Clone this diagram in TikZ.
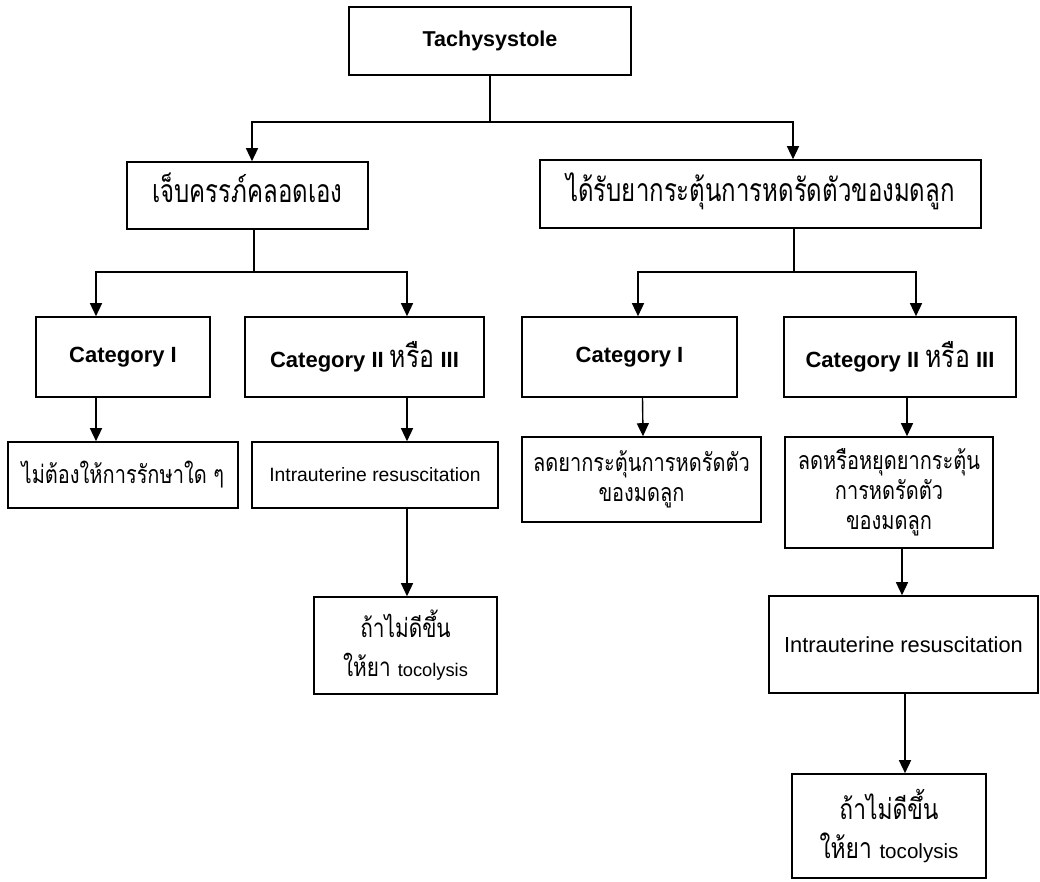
\documentclass[tikz,border=0pt]{standalone}
\usepackage{fontspec}
\setmainfont{Liberation Sans}
\newfontfamily\thaiN[Script=Thai, FakeStretch=0.75]{Loma}
\newfontfamily\thaiM[Script=Thai, FakeStretch=0.8]{Loma}
\newfontfamily\latin{Liberation Sans}
\usetikzlibrary{arrows.meta}
\begin{document}
\begin{tikzpicture}[x=1pt,y=-1pt,
  box/.style={draw, line width=1.6pt, inner sep=0pt, align=center, anchor=center},
  ln/.style={line width=1.4pt},
  arr/.style={ln, -{Triangle[width=12pt,length=13pt]}},
  thaiH/.style={font=\thaiN\fontsize{32}{36}\selectfont, text height=21pt, text depth=6pt},
  catF/.style={font=\bfseries\fontsize{22}{26}\selectfont},
  thaiS/.style={font=\thaiM\fontsize{25}{30}\selectfont},
  thaiT/.style={font=\thaiM\fontsize{26}{39}\selectfont},
]
\useasboundingbox (0,0) rectangle (1040,882);
% level 0
\node[box, minimum width=282, minimum height=68, font=\bfseries\fontsize{21.5}{26}\selectfont] (tachy) at (490,41) {Tachysystole};
% level 1
\node[box, thaiH, minimum width=241, minimum height=67] (spont) at (247.5,195.5) {เจ็บครรภ์คลอดเอง};
\node[box, thaiH, minimum width=441, minimum height=68] (induced) at (760.5,194) {ได้รับยากระตุ้นการหดรัดตัวของมดลูก};
% level 2
\node[box, catF, minimum width=174, minimum height=80] (catIL) at (123,357) {Category I};
\node[box, catF, minimum width=239, minimum height=80] (catIIL) at (364.5,357) {Category II {\thaiM\mdseries\fontsize{31}{26}\selectfont หรือ} III};
\node[box, catF, minimum width=215, minimum height=80] (catIR) at (629.5,357) {Category I};
\node[box, catF, minimum width=232, minimum height=80] (catIIR) at (900,357) {Category II {\thaiM\mdseries\fontsize{31}{26}\selectfont หรือ} III};
% level 3
\node[box, thaiS, minimum width=230, minimum height=66] (notx) at (123,475) {ไม่ต้องให้การรักษาใด ๆ};
\node[box, font=\fontsize{19.3}{24}\selectfont, minimum width=246, minimum height=66] (iurL) at (375,475) {Intrauterine resuscitation};
\node[box, thaiS, minimum width=239, minimum height=85] (reduce) at (641.5,479.5) {ลดยากระตุ้นการหดรัดตัว\\ของมดลูก};
\node[box, thaiS, minimum width=208, minimum height=111] (stop) at (889,492.5) {ลดหรือหยุดยากระตุ้น\\การหดรัดตัว\\ของมดลูก};
% level 4
\node[box, thaiT, minimum width=183, minimum height=97] (tocoL) at (405.5,645.5) {ถ้าไม่ดีขึ้น\\ให้ยา {\latin\fontsize{18.3}{39}\selectfont tocolysis}};
\node[box, font=\fontsize{21.8}{26}\selectfont, minimum width=269, minimum height=97] (iurR) at (903.5,644.5) {Intrauterine resuscitation};
\node[box, thaiT, font=\thaiM\fontsize{28.5}{39}\selectfont, minimum width=194, minimum height=104] (tocoR) at (889,826) {ถ้าไม่ดีขึ้น\\ให้ยา {\latin\fontsize{20.6}{39}\selectfont tocolysis}};
% connectors
\coordinate (b0) at (490,122);
\draw[ln] (tachy.south) -- (b0);
\draw[arr] (b0) -| ([xshift=4.5]spont.north);
\draw[arr] (b0) -| ([xshift=32.5]induced.north);
\coordinate (b1) at (254,272);
\draw[ln] ([xshift=6.5]spont.south) -- (b1);
\draw[arr] (b1) -| ([xshift=-27]catIL.north);
\draw[arr] (b1) -| ([xshift=42.5]catIIL.north);
\coordinate (b2) at (794,272);
\draw[ln] ([xshift=33.5]induced.south) -- (b2);
\draw[arr] (b2) -| ([xshift=8.5]catIR.north);
\draw[arr] (b2) -| ([xshift=16]catIIR.north);
\draw[arr] ([xshift=-27]catIL.south) -- ([xshift=-27]notx.north);
\draw[arr] ([xshift=42.5]catIIL.south) -- ([xshift=32]iurL.north);
\draw[arr] ([xshift=32]iurL.south) -- ([xshift=1.5]tocoL.north);
\draw[arr] ([xshift=13]catIR.south) -- ([xshift=1.5]reduce.north);
\draw[arr] ([xshift=7]catIIR.south) -- ([xshift=18]stop.north);
\draw[arr] ([xshift=13]stop.south) -- ([xshift=-1.5]iurR.north);
\draw[arr] ([xshift=1.5]iurR.south) -- ([xshift=16]tocoR.north);
\end{tikzpicture}
\end{document}
